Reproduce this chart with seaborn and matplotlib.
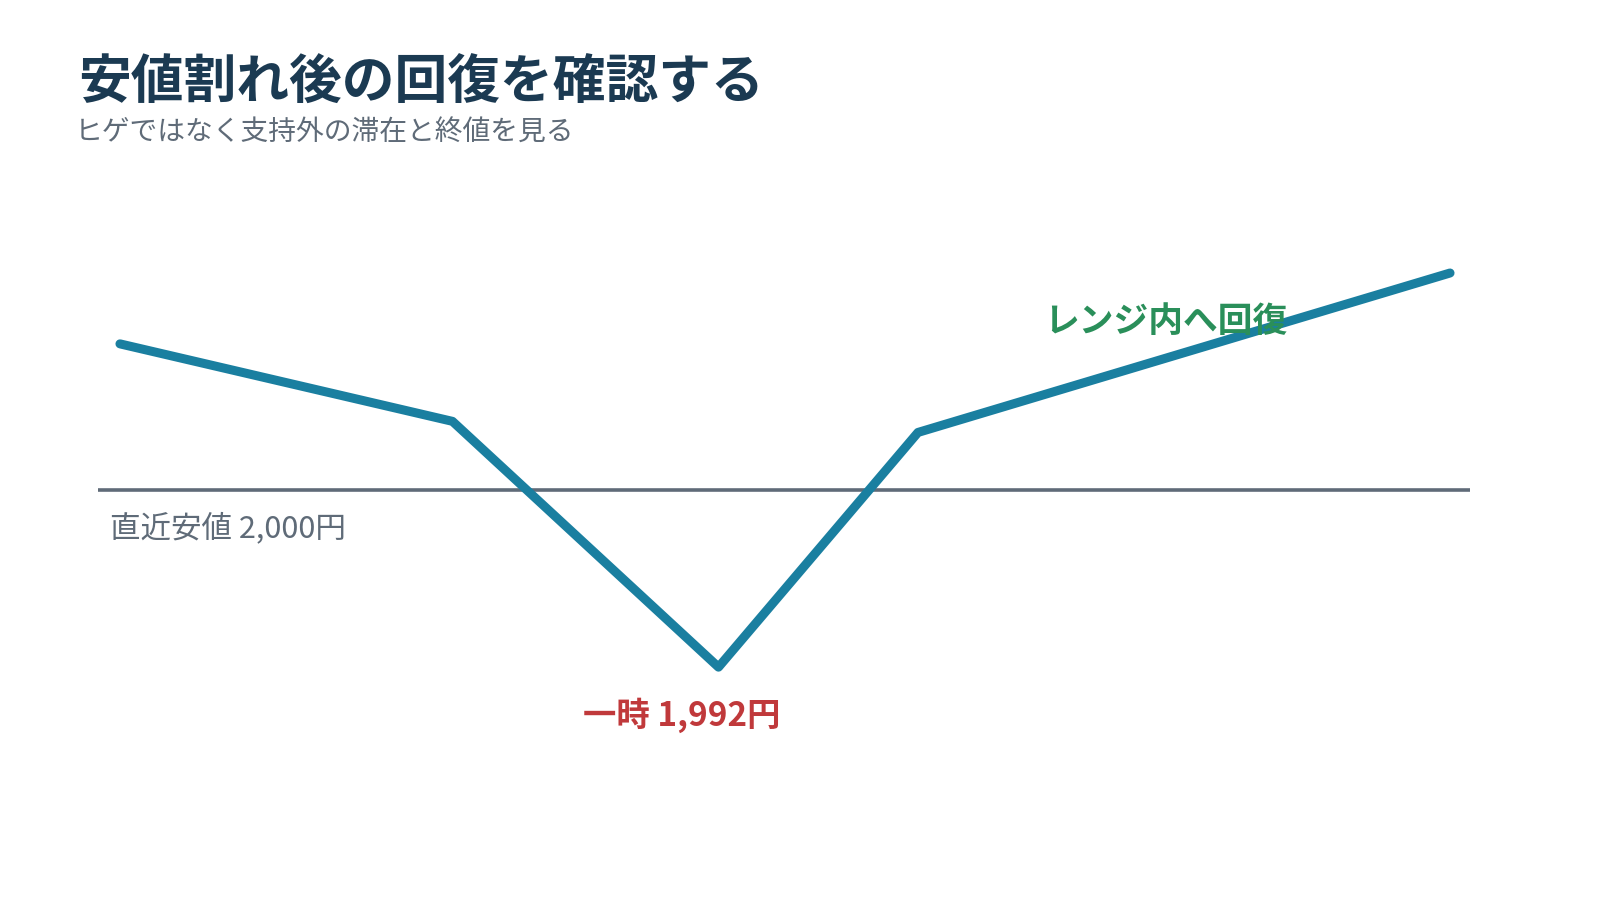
import matplotlib
matplotlib.use("Agg")
import matplotlib.pyplot as plt
import seaborn as sns
import pandas as pd

sns.set_theme(style="white")
plt.rcParams['font.family'] = ['Noto Sans CJK JP', 'DejaVu Sans']

days = [0, 5, 9, 12, 20]
prices = [2006.6, 2003.1, 1992.0, 2002.6, 2009.8]
support = 2000
title = "安値割れ後の回復を確認する"
subtitle = "ヒゲではなく支持外の滞在と終値を見る"
support_label = "直近安値 2,000円"
low_label = "一時 1,992円"
recover_label = "レンジ内へ回復"

df = pd.DataFrame({"day": days, "price": prices})

fig = plt.figure(figsize=(16, 9), dpi=100)
ax = fig.add_axes([98/1600, 100/900, 1372/1600, 620/900])
ax.set_xlim(-0.33, 20.3)
ax.set_ylim(1986.0, 2014.0)
ax.axhline(support, color="#5f6b78", lw=2.6, zorder=1)
sns.lineplot(data=df, x="day", y="price", ax=ax, color="#1a7fa0", lw=6.5, zorder=2)
ax.set_axis_off()

ax.text(-0.15, support - 1.75, support_label, color="#5f6b78", fontsize=22, va="center", ha="left")
ax.text(8.45, prices[2] - 2.15, low_label, color="#c0393b", fontsize=24, fontweight="bold", va="center", ha="center")
ax.text(13.9, 2007.6, recover_label, color="#2a8f5a", fontsize=25, fontweight="bold", va="center", ha="left")

fig.text(78/1600, 1 - 83/900, title, color="#1b3a52", fontsize=38, fontweight="bold", va="center", ha="left")
fig.text(75/1600, 1 - 133/900, subtitle, color="#5f6b78", fontsize=20, va="center", ha="left")

fig.savefig("out.png", dpi=100)
